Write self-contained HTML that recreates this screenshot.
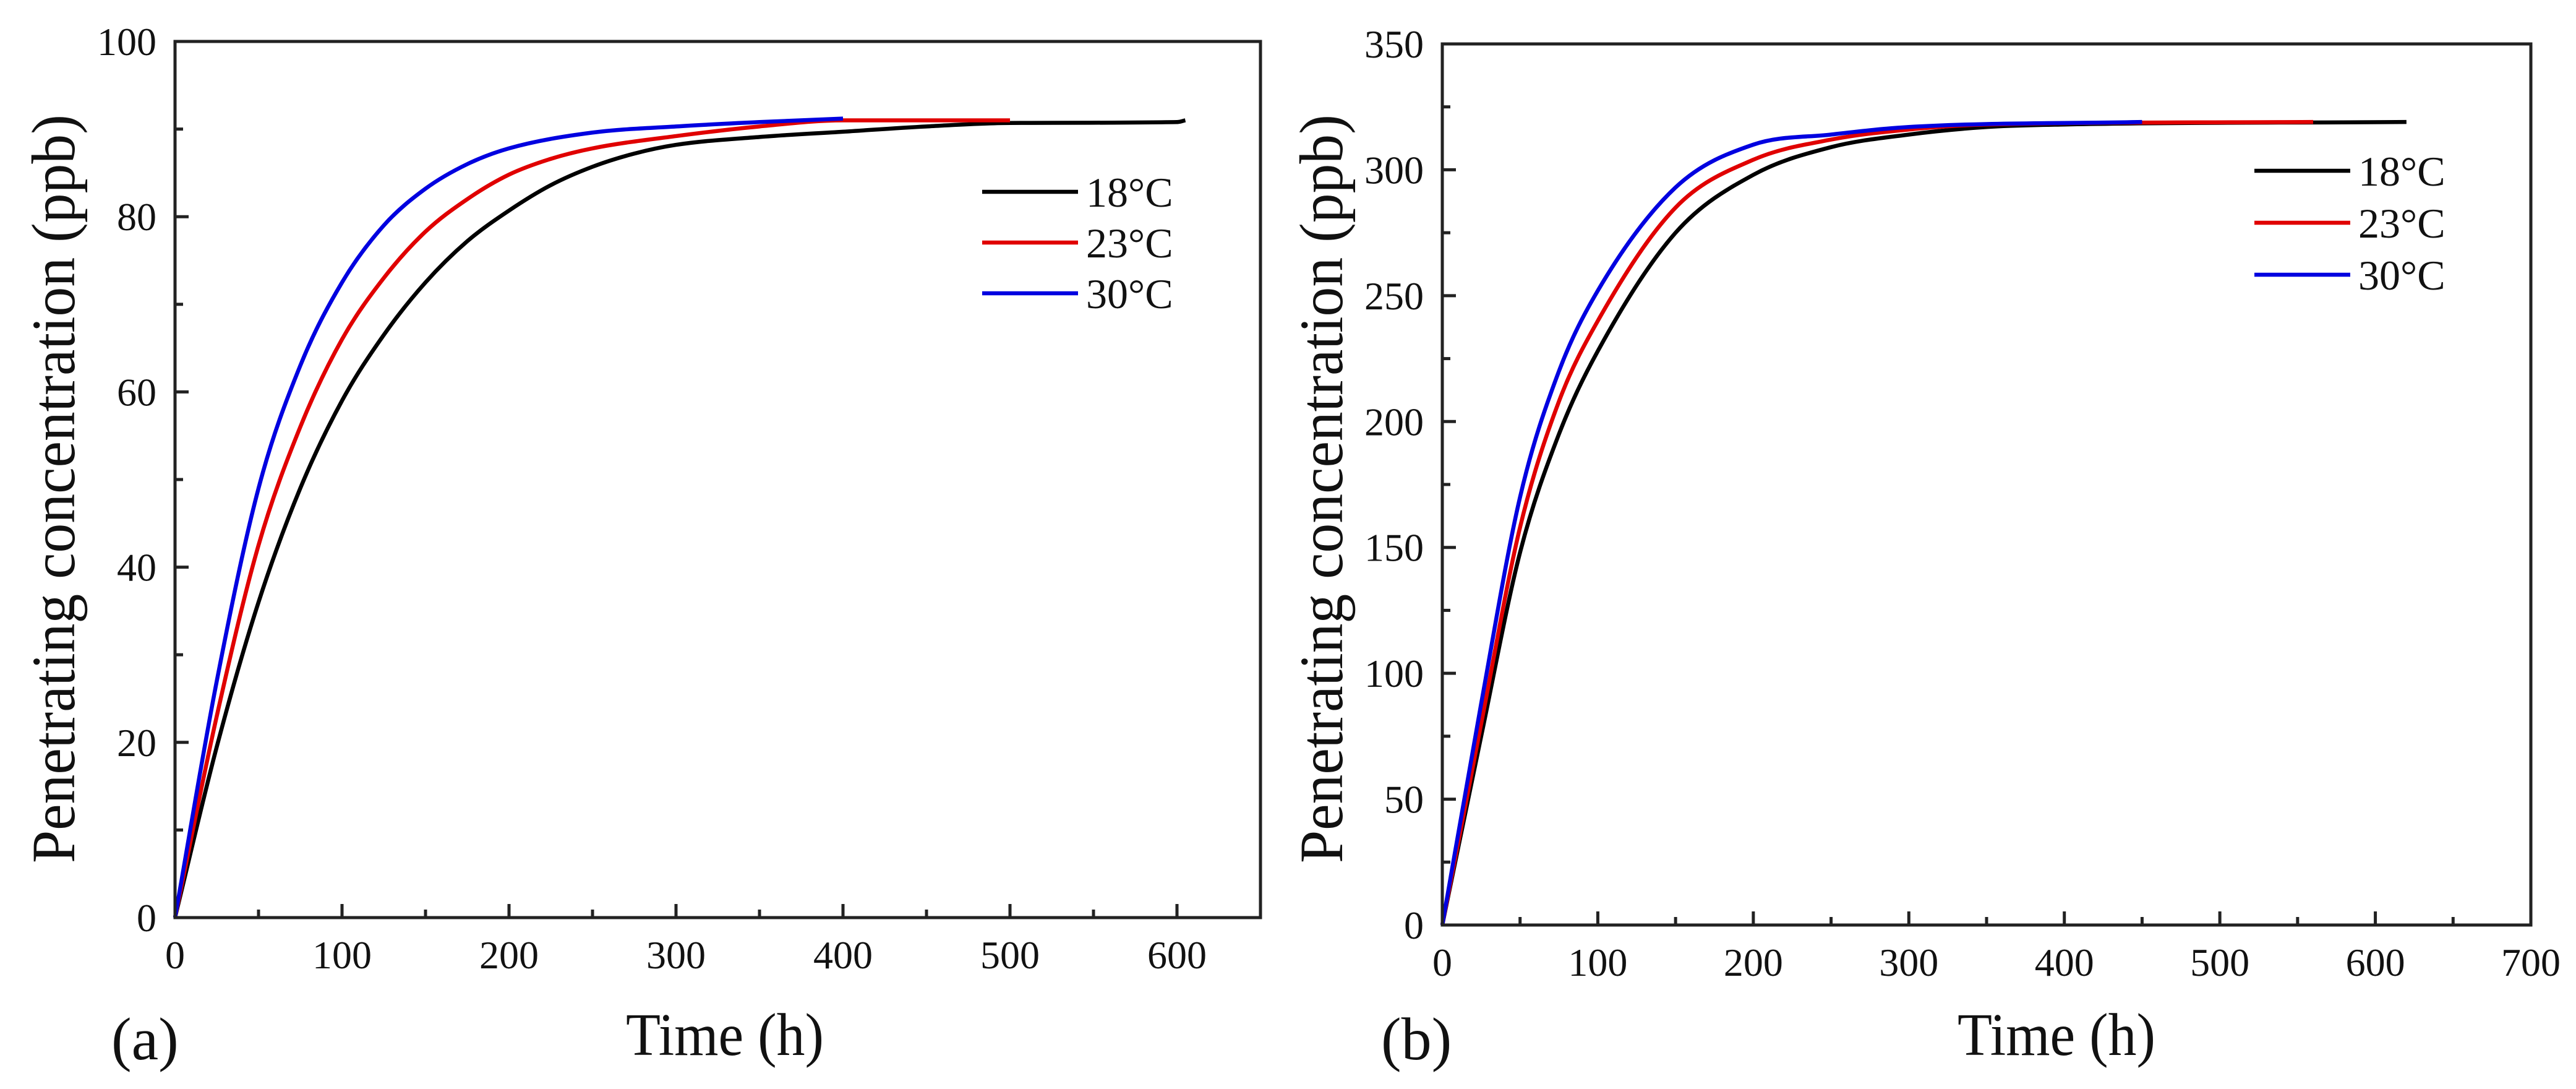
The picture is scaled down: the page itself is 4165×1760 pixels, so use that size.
<!DOCTYPE html>
<html><head><meta charset="utf-8"><style>
html,body{margin:0;padding:0;background:#fff;}
svg{display:block;}
text{font-family:"Liberation Serif","DejaVu Serif",serif;fill:#111;}
</style></head><body>
<svg id="fig" width="4165" height="1760" viewBox="0 0 4165 1760" xmlns="http://www.w3.org/2000/svg"></svg>
<script>
// Panel (a) data
const aTime18 = [0, 25, 50, 75, 100, 125, 150, 175, 200, 225, 250, 275, 300, 350, 400, 450, 500, 600, 605];
const aConc18 = [0, 19.5, 36, 49, 59, 66.5, 72.5, 77.2, 80.7, 83.6, 85.7, 87.2, 88.2, 89.1, 89.7, 90.3, 90.7, 90.8, 91];
const aTime23 = [0, 25, 50, 75, 100, 125, 150, 175, 200, 225, 250, 300, 350, 400, 500];
const aConc23 = [0, 23, 42.5, 56, 66, 73, 78.3, 82, 84.8, 86.6, 87.8, 89.2, 90.3, 91, 91];
const aTime30 = [0, 25, 50, 75, 100, 125, 150, 175, 200, 250, 300, 350, 400];
const aConc30 = [0, 27, 49, 63, 72.5, 79, 83.2, 86, 87.8, 89.6, 90.3, 90.8, 91.2];
const aXTicks = [0, 100, 200, 300, 400, 500, 600];
const aYTicks = [0, 20, 40, 60, 80, 100];
// Panel (b) data
const bTime18 = [0, 25, 50, 75, 100, 150, 200, 250, 300, 350, 400, 620];
const bConc18 = [0, 75, 148, 195, 228, 275, 298, 309, 314, 317, 318, 319];
const bTime23 = [0, 25, 50, 75, 100, 150, 200, 250, 300, 350, 560];
const bConc23 = [0, 80, 158, 208, 240, 285, 304, 312, 316, 318, 319];
const bTime30 = [0, 25, 50, 75, 100, 150, 200, 250, 300, 450];
const bConc30 = [0, 88, 170, 220, 252, 293, 310, 314, 317, 319];
const bXTicks = [0, 100, 200, 300, 400, 500, 600, 700];
const bYTicks = [0, 50, 100, 150, 200, 250, 300, 350];
const seriesNames = ["18°C", "23°C", "30°C"];
const seriesColors = ["#000000", "#e00000", "#0000e0"];

const NS = "http://www.w3.org/2000/svg";
const svg = document.getElementById("fig");
function mk(tag, attrs, parent) {
  const e = document.createElementNS(NS, tag);
  for (const k in attrs) e.setAttribute(k, attrs[k]);
  (parent || svg).appendChild(e);
  return e;
}
function monotonePath(px, py) {
  const n = px.length;
  if (n < 2) return "";
  const d = [], m = [];
  for (let i = 0; i < n - 1; i++) d.push((py[i+1]-py[i])/(px[i+1]-px[i]));
  m.push(d[0]);
  for (let i = 1; i < n - 1; i++) m.push(d[i-1]*d[i] <= 0 ? 0 : (d[i-1]+d[i])/2);
  m.push(d[n-2]);
  for (let i = 0; i < n - 1; i++) {
    if (d[i] === 0) { m[i] = 0; m[i+1] = 0; continue; }
    const a = m[i]/d[i], b = m[i+1]/d[i], s = a*a+b*b;
    if (s > 9) { const t = 3/Math.sqrt(s); m[i] = t*a*d[i]; m[i+1] = t*b*d[i]; }
  }
  let p = "M" + px[0] + "," + py[0];
  for (let i = 0; i < n - 1; i++) {
    const h = (px[i+1]-px[i])/3;
    p += " C" + (px[i]+h) + "," + (py[i]+m[i]*h) + " " + (px[i+1]-h) + "," + (py[i+1]-m[i+1]*h) + " " + px[i+1] + "," + py[i+1];
  }
  return p;
}

function panel(cfg) {
  const g = mk("g", {});
  
  
  const X = v => cfg.L + (v - 0) / cfg.xmax * (cfg.R - cfg.L);
  const Y = v => cfg.B - v / cfg.ymax * (cfg.B - cfg.T);
  for (let s = 0; s < 3; s++) {
    const xs = cfg.times[s].map(X), ys = cfg.concs[s].map(Y);
    const p = mk("path", {d: monotonePath(xs, ys), fill: "none", stroke: seriesColors[s], "stroke-width": 6.5, "stroke-linejoin": "round"}, g);
    
    
  }
  const fr = mk("rect", {x: cfg.L, y: cfg.T, width: cfg.R - cfg.L, height: cfg.B - cfg.T, fill: "none", stroke: "#222", "stroke-width": 5}, g);
  
  
  const xt = mk("g", {}, g);
  
  
  for (let v = 0; v <= cfg.xmax + 0.001; v += cfg.xminor) {
    const major = cfg.xticks.indexOf(v) >= 0;
    mk("line", {x1: X(v), x2: X(v), y1: cfg.B, y2: cfg.B - (major ? 22 : 13), stroke: "#222", "stroke-width": 5}, xt);
  }
  cfg.xticks.forEach(v => {
    const t = mk("text", {x: X(v), y: cfg.B + 82, "font-size": 64, "text-anchor": "middle"}, xt);
    t.textContent = v;
    
    
  });
  const yt = mk("g", {}, g);
  
  
  for (let v = 0; v <= cfg.ymax + 0.001; v += cfg.yminor) {
    const major = cfg.yticks.indexOf(v) >= 0;
    mk("line", {x1: cfg.L, x2: cfg.L + (major ? 22 : 13), y1: Y(v), y2: Y(v), stroke: "#222", "stroke-width": 5}, yt);
  }
  cfg.yticks.forEach(v => {
    const t = mk("text", {x: cfg.L - 30, y: Y(v) + 22, "font-size": 64, "text-anchor": "end"}, yt);
    t.textContent = v;
    
    
  });
  const xtit = mk("text", {x: cfg.xtitleX, y: 1705, "font-size": 98, "text-anchor": "middle", textLength: 320, lengthAdjust: "spacingAndGlyphs"}, g);
  xtit.textContent = "Time (h)";
  
  
  const ytit = mk("text", {x: 0, y: 0, "font-size": 100, "text-anchor": "middle", textLength: 1210, lengthAdjust: "spacingAndGlyphs", transform: "translate(" + cfg.ytitleX + ",790) rotate(-90)"}, g);
  ytit.textContent = "Penetrating concentration (ppb)";
  
  
  const pl = mk("text", {x: cfg.labelX, y: 1712, "font-size": 98}, g);
  pl.textContent = cfg.label;
  
  
  const lg = mk("g", {}, g);
  
  
  for (let s = 0; s < 3; s++) {
    const y = cfg.legY + s * cfg.legDY;
    const e = mk("g", {}, lg);
    
    
    mk("line", {x1: cfg.legX, x2: cfg.legX + 155, y1: y, y2: y, stroke: seriesColors[s], "stroke-width": 6.5}, e);
    const t = mk("text", {x: cfg.legX + 168, y: y + 24, "font-size": 68}, e);
    t.textContent = seriesNames[s];
  }
}

panel({name: "panel-a-chart", L: 283, R: 2038, T: 67, B: 1483, xmax: 650, ymax: 100,
  xminor: 50, yminor: 10, xticks: aXTicks, yticks: aYTicks,
  times: [aTime18, aTime23, aTime30], concs: [aConc18, aConc23, aConc30],
  xtitleX: 1172, ytitleX: 120, labelX: 180, label: "(a)", legX: 1588, legY: 310, legDY: 82});
panel({name: "panel-b-chart", L: 2332, R: 4092, T: 71, B: 1495, xmax: 700, ymax: 350,
  xminor: 50, yminor: 25, xticks: bXTicks, yticks: bYTicks,
  times: [bTime18, bTime23, bTime30], concs: [bConc18, bConc23, bConc30],
  xtitleX: 3325, ytitleX: 2170, labelX: 2233, label: "(b)", legX: 3645, legY: 276, legDY: 84});
</script>
</body></html>
